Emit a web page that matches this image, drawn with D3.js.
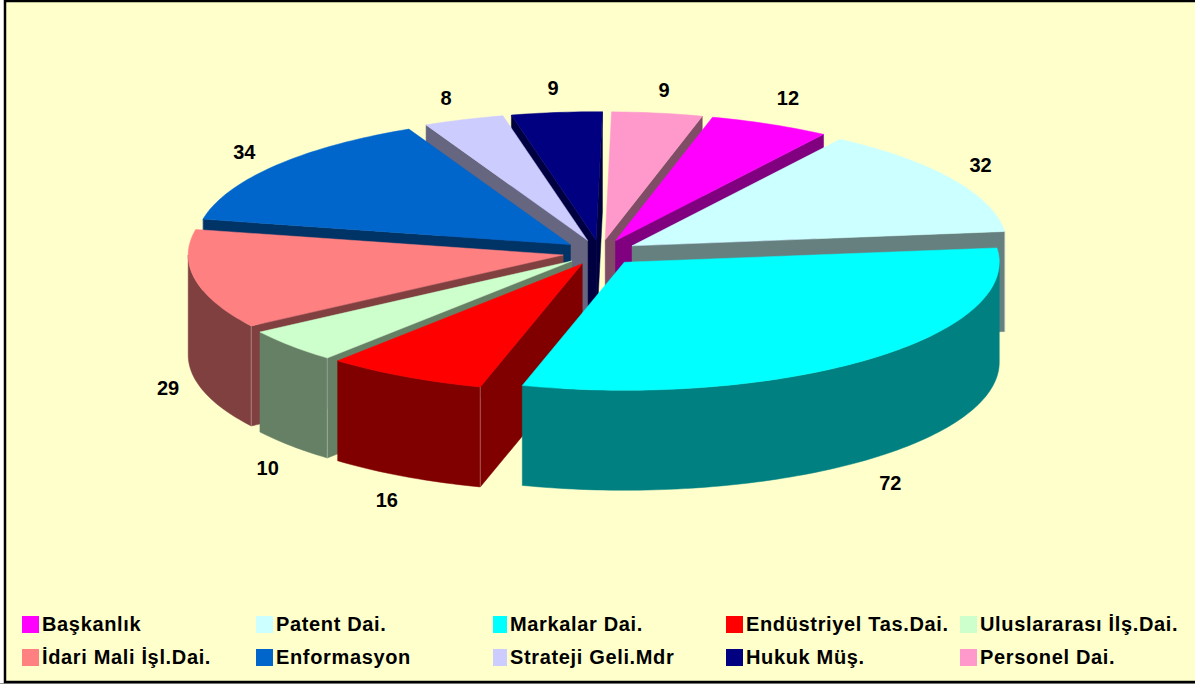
<!DOCTYPE html>
<html><head><meta charset="utf-8">
<script src="https://cdn.jsdelivr.net/npm/d3@7"></script>
<style>html,body{margin:0;padding:0;background:#fff;overflow:hidden}svg{display:block}
text{font-family:"Liberation Sans",Arial,sans-serif;font-weight:bold;fill:#000}</style>
</head><body><svg id="c" width="1195" height="684"></svg>
<script>
const categories = ["Başkanlık","Patent Dai.","Markalar Dai.","Endüstriyel Tas.Dai.","Uluslararası İlş.Dai.","İdari Mali İşl.Dai.","Enformasyon","Strateji Geli.Mdr","Hukuk Müş.","Personel Dai."];
const values = [12,32,72,16,10,29,34,8,9,9];
const colors = ["#FF00FF","#CCFFFF","#00FFFF","#FF0000","#CCFFCC","#FF8080","#0066CC","#CCCCFF","#000080","#FF99CC"];
const paintOrder = [8,9,0,1,7,6,5,4,3,2];
const legendColumns = [22,256,493,726,960];
const swatchWidths = [17,17,14,17,17];

const cx=600, cy=252.5, rx=375, ry=128, depth=100, explode=0.1;
const startAngle = 15.0*Math.PI/180;
const svg = d3.select("#c");

// frame: its right side runs past the picture edge
svg.append("rect").attr("x",0).attr("y",683).attr("width",1195).attr("height",1).attr("fill","#999");
svg.append("rect").attr("x",5).attr("y",1).attr("width",1300).attr("height",681)
  .attr("fill","#FFFFCC").attr("stroke","#000").attr("stroke-width",2.5);

const pie = d3.pie().sort(null).startAngle(startAngle).endAngle(startAngle+2*Math.PI);
const arcs = pie(values);
const wallColor = c => { const r=d3.rgb(c); return d3.rgb(r.r/2,r.g/2,r.b/2).formatHex(); };
const px = (a,k=1)=>rx*k*Math.sin(a), py=(a,k=1)=>-ry*k*Math.cos(a);

function arcPoints(ox,oy,a0,a1,dz=0){
  const n=Math.max(2,Math.ceil((a1-a0)/0.02)), s=d3.scaleLinear().domain([0,n]).range([a0,a1]);
  return d3.range(n+1).map(i=>{const a=s(i);return [ox+px(a),oy+py(a)+dz];});
}
const line=d3.line();

paintOrder.forEach(i=>{
  const d=arcs[i], c=colors[i], w=wallColor(c);
  const mid=(d.startAngle+d.endAngle)/2;
  const ox=cx+px(mid,explode), oy=cy+py(mid,explode);
  const g=svg.append("g").attr("class","slice");
  const face=(a)=>{
    const e=[ox+px(a),oy+py(a)];
    g.append("path").attr("d",line([[ox,oy],e,[e[0],e[1]+depth],[ox,oy+depth]])+"Z").attr("fill",w).attr("stroke",w).attr("stroke-width",.5);
  };
  const edges=[];
  if(-Math.sin(d.startAngle)>0) {face(d.startAngle);edges.push(d.startAngle);}
  if(Math.sin(d.endAngle)>0) {face(d.endAngle);edges.push(d.endAngle);}
  // outer wall: lower half of the ellipse only
  const turn=2*Math.PI;
  for(const k of [0,1]){
    const lo=Math.max(d.startAngle,Math.PI/2+k*turn), hi=Math.min(d.endAngle,3*Math.PI/2+k*turn);
    if(hi>lo){
      const top=arcPoints(ox,oy,lo,hi), bot=arcPoints(ox,oy,lo,hi,depth).reverse();
      g.append("path").attr("d",line(top.concat(bot))+"Z").attr("fill",w).attr("stroke",w).attr("stroke-width",.5);
    }
  }
  // hairlines where a radial wall meets the outer wall
  edges.forEach(a=>{
    const e=[ox+px(a),oy+py(a)];
    if(Math.cos(a)<0.3) g.append("line").attr("x1",e[0]).attr("x2",e[0]).attr("y1",e[1]).attr("y2",e[1]+depth)
      .attr("stroke","#fff").attr("stroke-opacity",.3).attr("stroke-width",1);
  });
  g.append("path").attr("d",line([[ox,oy]].concat(arcPoints(ox,oy,d.startAngle,d.endAngle)))+"Z")
    .attr("fill",c).attr("stroke",c).attr("stroke-width",.5);
});

// data labels
const labelNudge=[[4,-5],[-0.5,-2.5],[1.5,6],[-2,3],[2,7],[6,4],[-4,0],[-6.5,0],[0,-2],[2,0]];
arcs.forEach((d,i)=>{
  const m=(d.startAngle+d.endAngle)/2, low=Math.cos(m)<0;
  svg.append("text").attr("x",cx+px(m,1.19)+labelNudge[i][0])
    .attr("y",cy+py(m,1.28)+(low?depth:0)+labelNudge[i][1]+7)
    .attr("text-anchor","middle").attr("font-size",20).text(values[i]);
});

// legend
const rowY=[624,657];
categories.forEach((name,i)=>{
  const col=i%5,row=Math.floor(i/5),x=legendColumns[col],y=rowY[row];
  svg.append("rect").attr("x",x).attr("y",y-8).attr("width",swatchWidths[col]).attr("height",17).attr("fill",colors[i]);
  svg.append("text").attr("x",x+swatchWidths[col]+3).attr("y",y+7).attr("font-size",20).attr("letter-spacing",.65).text(name);
});
</script></body></html>
